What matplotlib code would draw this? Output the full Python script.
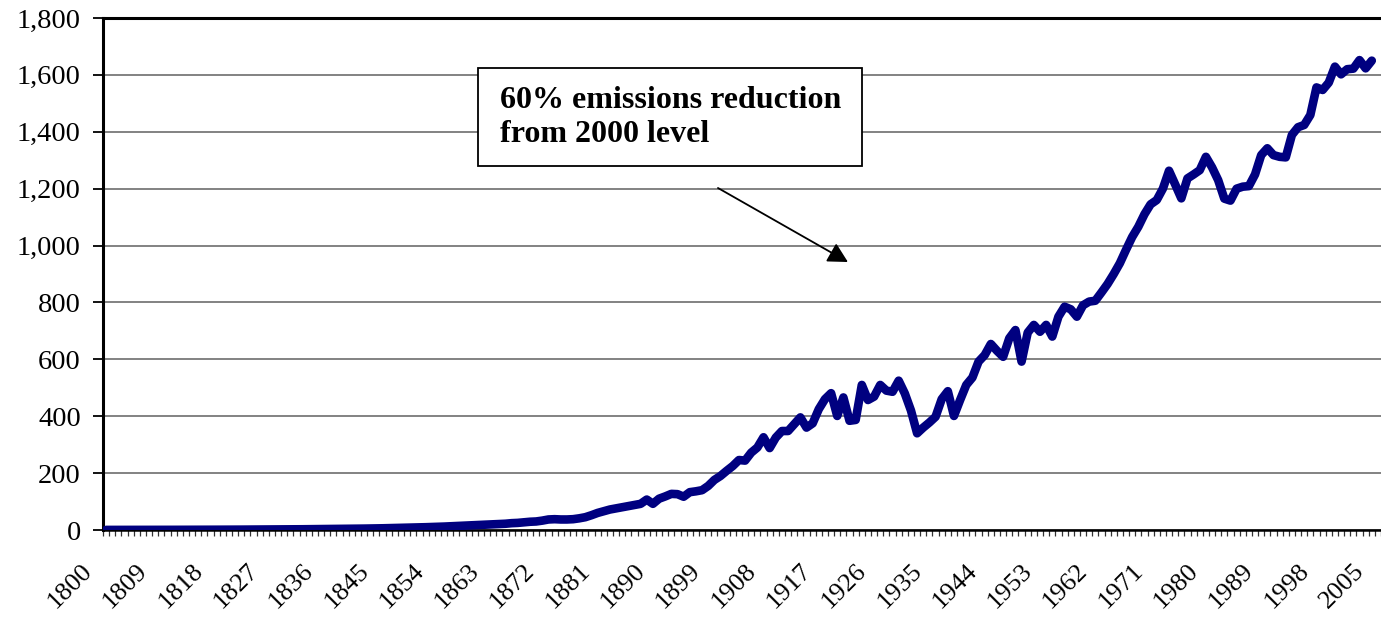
import matplotlib
matplotlib.use("Agg")
import matplotlib.pyplot as plt
import matplotlib.transforms as mtransforms
from matplotlib.patches import Rectangle

plt.rcParams['font.family'] = ['Liberation Serif', 'DejaVu Serif']

# yearly values, 1800 .. 2006
years = list(range(1800, 2007))
emissions = [
    0.3, 0.3, 0.3, 0.4, 0.4, 0.4, 0.5, 0.5, 0.5, 0.6,
    0.6, 0.6, 0.7, 0.7, 0.8, 0.8, 0.9, 0.9, 1.0, 1.0,
    1.1, 1.2, 1.3, 1.4, 1.5, 1.6, 1.7, 1.8, 2.0, 2.1,
    2.3, 2.4, 2.6, 2.8, 3.0, 3.2, 3.4, 3.6, 3.8, 4.0,
    4.3, 4.6, 4.9, 5.2, 5.6, 6.0, 6.5, 7.0, 7.5, 8.0,
    8.6, 9.2, 9.8, 10.5, 11.2, 12, 13, 14, 15, 16,
    17, 18, 19, 20, 21, 22, 24, 25, 27, 29,
    30, 33, 37, 38, 37, 37, 38, 41, 45, 52,
    60, 66, 72, 76, 80, 84, 88, 92, 107, 92,
    110, 118, 127, 126, 117, 133, 136, 140, 155, 176,
    190, 208, 225, 246, 244, 272, 290, 326, 288, 325,
    348, 348, 372, 396, 360, 375, 425, 460, 481, 401,
    466, 384, 387, 510, 457, 469, 510, 490, 486, 525,
    480, 420, 340, 360, 378, 398, 460, 488, 401, 457,
    510, 536, 592, 615, 654, 630, 609, 674, 703, 592,
    694, 721, 697, 721, 680, 750, 785, 776, 750, 790,
    803, 806, 835, 865, 900, 938, 985, 1030, 1066, 1110,
    1145, 1160, 1200, 1263, 1215, 1166, 1236, 1250, 1265, 1312,
    1275, 1230, 1165, 1158, 1200, 1207, 1209, 1250, 1318, 1342,
    1318, 1312, 1310, 1389, 1416, 1424, 1459, 1556, 1547, 1573,
    1629, 1602, 1620, 1622, 1652, 1623, 1650,
]

# category axis labels (every 9th category, the last one reads 2005)
label_pos = list(range(0, 208, 9))
label_text = [str(1800 + p) for p in label_pos[:-1]] + ['2005']

y_ticks = [0, 200, 400, 600, 800, 1000, 1200, 1400, 1600, 1800]
note = "60% emissions reduction\nfrom 2000 level"

fig = plt.figure(figsize=(13.81, 6.18), dpi=100)
ax = fig.add_axes([103 / 1381, 88 / 618, 1278 / 1381, 512 / 618])

idx = list(range(len(years)))
ax.plot(idx, emissions, color='#000080', linewidth=6.2,
        solid_joinstyle='round', solid_capstyle='round', zorder=3)

ax.set_xlim(-0.5, 207.07)
ax.set_ylim(0, 1800)

ax.set_yticks(y_ticks)
ax.set_yticklabels([f"{v:,}" for v in y_ticks])
ax.yaxis.grid(True, color='#606060', linewidth=1.1)
ax.set_axisbelow(True)

ax.set_xticks(label_pos)
ax.set_xticklabels(label_text, rotation=45, ha='right', va='top',
                   rotation_mode='anchor')
ax.set_xticks([i - 0.5 for i in range(209)], minor=True)
ax.tick_params(axis='x', which='major', length=0, labelsize=19, pad=0)
ax.tick_params(axis='x', which='minor', length=4.5, width=0.9,
               direction='out', color='#333333')
ax.tick_params(axis='y', which='major', length=7, width=1.3,
               direction='out', labelsize=20.5, pad=9)

offset = mtransforms.ScaledTranslation(-25 / 100, -30 / 100, fig.dpi_scale_trans)
for lab in ax.get_xticklabels():
    lab.set_transform(lab.get_transform() + offset)

for side in ['left', 'top']:
    ax.spines[side].set_linewidth(2.2)
ax.spines['bottom'].set_linewidth(1.8)
ax.spines['right'].set_visible(False)

# note box and arrow
ax.add_patch(Rectangle((0.2934, 0.7109), 0.3005, 0.1914, transform=ax.transAxes,
                       facecolor='white', edgecolor='black', linewidth=1.3,
                       zorder=5))
ax.text(0.3107, 0.806, note, transform=ax.transAxes, fontsize=23,
        fontweight='bold', ha='left', va='center', linespacing=1.25, zorder=6)
ax.annotate('', xy=(0.5829, 0.5234), xytext=(0.4812, 0.668),
            xycoords='axes fraction',
            arrowprops=dict(arrowstyle='-|>,head_length=0.6,head_width=0.32',
                            color='black', lw=1.3, mutation_scale=20,
                            shrinkA=0, shrinkB=0))

fig.savefig('out.png', dpi=100)
